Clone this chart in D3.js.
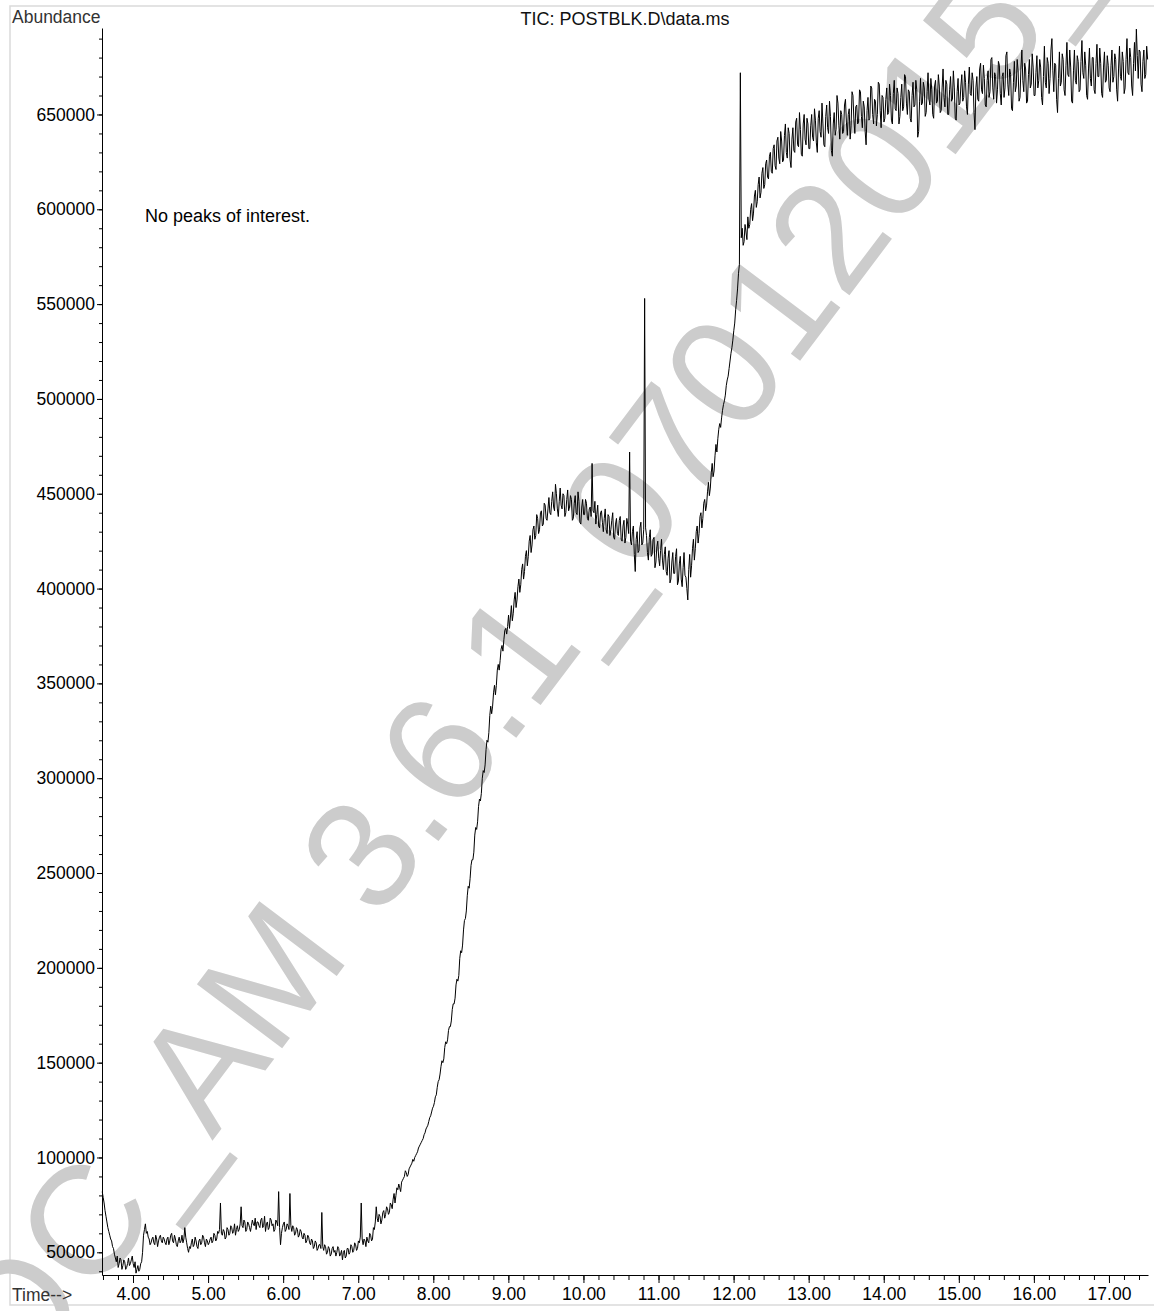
<!DOCTYPE html>
<html>
<head>
<meta charset="utf-8">
<script src="https://cdn.jsdelivr.net/npm/d3@7"></script>
<style>
  html, body { margin: 0; padding: 0; background: #fff; }
  svg { display: block; }
  text { font-family: "Liberation Sans", Arial, Helvetica, sans-serif; }
</style>
</head>
<body>
<svg id="chart" width="1154" height="1311"></svg>
<script>
// Total ion chromatogram, one value per scan (thousands of counts)
const scanStart = 3.59;       // min
const scanInterval = 0.0125;  // min
const ticK = [
  // 3.59 - 4.18
  82,79,76,72,69,66,63,61,59,57,56,53,52,49,47,45,48,42,44,47,46,41,43,46,
  45,41,42,44,47,43,44,46,48,44,42,45,39,41,43,40,41,44,45,50,59,62,65,60,
  // 4.19 - 5.00
  61,58,57,54,55,57,58,55,54,59,57,53,56,58,59,56,55,58,57,55,54,57,58,54,
  56,59,60,56,55,59,57,54,53,56,58,55,56,59,55,57,63,58,55,52,50,53,52,55,
  57,53,54,58,56,53,52,56,57,54,55,59,58,55,53,57,56,54,
  // 5.02 - 5.98
  55,57,58,55,56,60,59,56,57,61,60,62,76,60,59,62,61,57,58,63,62,59,60,64,
  63,60,61,65,59,62,64,61,62,65,74,64,63,67,66,61,62,66,65,63,61,64,67,65,
  64,68,62,66,66,64,63,67,68,63,64,69,61,65,66,62,63,68,67,64,65,61,62,67,
  66,64,82,63,54,60,
  // 5.99 - 7.00
  63,65,66,61,62,65,64,62,81,64,61,64,63,59,60,63,62,58,59,62,61,58,57,60,
  59,55,56,59,58,55,54,57,56,52,53,56,55,51,52,54,54,52,71,53,51,54,53,49,
  50,53,52,48,49,52,53,50,51,48,50,53,52,48,49,51,46,50,51,47,48,52,52,49,
  50,54,53,50,51,55,54,51,52,56,
  // 7.02 - 8.00
  55,58,76,57,54,57,56,53,58,56,55,60,59,56,57,63,62,66,74,68,66,70,69,65,
  67,71,72,68,70,74,73,70,71,76,75,73,78,81,76,80,84,83,86,84,82,87,88,89,
  90,93,92,90,91,94,95,96,97,99,98,100,101,102,103,105,106,107,108,109,110,112,
  113,115,116,117,119,121,122,124,126,127,
  // 8.02 - 9.00
  129,132,133,137,140,141,144,148,151,150,152,158,161,160,162,167,169,169,172,178,
  181,181,184,191,194,193,196,205,209,208,212,220,225,226,230,238,243,242,247,254,
  257,257,261,270,274,273,277,285,289,288,292,300,304,303,307,315,320,319,324,333,
  338,334,338,345,349,344,349,357,360,357,362,368,370,367,373,378,379,376,380,386,
  // 9.02 - 10.00
  379,385,391,383,387,394,398,390,394,401,405,398,402,410,413,405,409,417,420,412,
  417,425,428,419,423,431,433,426,428,439,437,429,431,440,441,433,434,445,444,437,
  436,442,448,440,439,446,451,443,441,455,450,442,438,446,453,444,442,450,449,438,
  440,447,452,441,443,449,447,436,437,445,449,440,439,451,446,435,434,443,447,439,
  // 10.02 - 11.00
  439,447,445,437,436,442,443,438,466,441,440,446,434,439,444,433,432,440,441,435,
  430,437,442,431,429,439,438,428,431,436,440,427,426,434,437,429,428,436,438,426,
  425,433,436,424,427,437,434,429,472,425,423,430,433,418,409,426,430,419,420,432,
  435,423,424,431,553,432,428,419,415,427,431,417,418,426,427,411,414,422,425,416,
  // 11.02 - 12.00
  412,420,426,415,410,418,422,409,407,416,420,403,405,414,419,408,408,417,421,402,
  404,413,417,405,401,411,419,407,406,400,394,410,418,406,412,421,426,415,421,430,
  433,424,429,438,440,432,437,445,447,441,444,451,456,449,453,461,466,459,462,470,
  476,472,479,484,487,485,490,494,497,499,502,507,510,512,516,520,524,527,531,536,
  // 12.02 - 13.00
  540,547,552,558,566,571,672,585,590,581,583,592,588,584,596,590,592,600,603,594,
  598,607,610,601,604,613,617,606,609,619,622,611,613,624,626,617,616,628,630,620,
  619,632,634,623,621,636,638,627,624,641,636,625,626,639,645,630,627,643,640,626,
  622,637,643,631,630,646,648,634,633,651,642,629,628,645,650,637,634,648,645,632,
  // 13.02 - 14.00
  632,644,650,638,636,653,647,635,630,648,652,641,638,656,645,634,633,649,655,643,
  640,657,649,631,628,645,651,639,642,660,656,644,637,652,650,640,641,655,658,646,
  639,650,653,637,644,662,660,647,640,654,655,645,646,663,662,649,643,657,654,641,
  634,652,659,647,648,665,664,650,645,658,657,644,650,667,666,652,643,660,659,646,
  // 14.02 - 15.00
  648,658,664,650,651,666,660,647,645,661,668,653,652,664,661,645,649,659,666,652,
  654,671,670,656,650,663,662,648,646,660,667,654,655,668,663,638,641,657,669,655,
  656,667,664,649,651,662,672,658,655,669,663,650,648,665,668,656,657,671,665,651,
  652,664,674,659,654,668,666,650,650,663,670,657,658,673,664,648,647,662,669,655,
  // 15.02 - 16.00
  656,665,671,657,659,673,667,654,650,666,675,661,660,672,668,651,642,664,670,658,
  657,674,677,663,661,676,669,655,654,668,673,659,662,679,680,664,658,672,670,656,
  663,678,676,661,655,670,672,659,664,681,683,666,660,674,671,653,652,667,678,662,
  665,679,673,657,659,675,684,668,662,677,674,656,657,671,679,664,666,682,675,660,
  // 16.02 - 17.00
  660,672,681,664,668,679,675,659,655,670,686,667,664,680,677,661,669,684,690,673,
  662,677,676,658,651,669,683,665,667,682,679,663,660,676,688,671,670,684,675,657,
  656,673,684,668,666,681,678,662,663,678,689,672,669,683,676,660,658,674,685,669,
  665,680,680,663,661,677,687,670,670,685,677,661,659,675,683,667,668,681,676,664,
  // 17.02 - 17.52
  662,676,684,667,670,682,679,663,657,674,686,670,668,683,678,661,664,679,690,672,
  671,685,680,665,660,677,688,673,695,681,669,684,683,666,662,678,684,669,671,686,679
];

// Axis tick values
const timeMajor = d3.range(4, 18, 1);
const timeMinor = d3.range(3.6, 17.55, 0.2);
const abundanceMajor = d3.range(50000, 650001, 50000);
const abundanceMinor = d3.range(40000, 695001, 10000);

// Texts
const titleText = "TIC: POSTBLK.D\\data.ms";
const yTitle = "Abundance";
const xTitle = "Time-->";
const note = "No peaks of interest.";
const stamp = "DOC_AM 3.6.1_07012015_";

const scans = ticK.map((v, i) => ({ t: scanStart + i * scanInterval, v: v * 1000 }));

const svg = d3.select("#chart");
const W = 1154;
const plot = { left: 102, right: 1148, top: 28, bottom: 1275 };

const x = d3.scaleLinear().domain([3.587, 17.52]).range([plot.left, plot.right]);
const y = d3.scaleLinear().domain([38030, 695600]).range([plot.bottom, plot.top]);

// page frame
svg.append("path")
  .attr("d", `M${W + 2},6 H10 V1305 H${W + 2}`)
  .attr("fill", "none")
  .attr("stroke", "#dadada")
  .attr("stroke-width", 1.5);

// watermark stamp
svg.append("text")
  .attr("transform", "translate(-47,1485) rotate(-53)")
  .attr("font-size", 155)
  .attr("fill", "#cccccc")
  .text(stamp);

// axes
const fs = 17.5;
const yMinorAxis = d3.axisLeft(y).tickValues(abundanceMinor).tickSize(3).tickFormat("").tickSizeOuter(0);
svg.append("g").attr("transform", `translate(${plot.left},0)`).call(yMinorAxis)
  .call(g => g.select(".domain").remove());

const yAxis = d3.axisLeft(y).tickValues(abundanceMajor).tickSize(5).tickPadding(2)
  .tickFormat(d3.format("d")).tickSizeOuter(0);
svg.append("g").attr("transform", `translate(${plot.left},0)`).call(yAxis)
  .call(g => g.selectAll("text").attr("font-size", fs).attr("font-family", null).attr("fill", "#000"))
  .call(g => g.select(".domain").attr("stroke", "#000"));

const xMinorAxis = d3.axisBottom(x).tickValues(timeMinor).tickSize(5).tickFormat("").tickSizeOuter(0);
svg.append("g").attr("transform", `translate(0,${plot.bottom})`).call(xMinorAxis)
  .call(g => g.select(".domain").remove());

const xAxis = d3.axisBottom(x).tickValues(timeMajor).tickSize(8).tickPadding(5)
  .tickFormat(d => d.toFixed(2)).tickSizeOuter(0);
svg.append("g").attr("transform", `translate(0,${plot.bottom})`).call(xAxis)
  .call(g => g.selectAll("text").attr("font-size", fs).attr("font-family", null).attr("fill", "#000"))
  .call(g => g.select(".domain").attr("stroke", "#000"));

// chromatogram trace
const line = d3.line().x(d => x(d.t)).y(d => y(d.v));
svg.append("path")
  .datum(scans)
  .attr("d", line)
  .attr("fill", "none")
  .attr("stroke", "#000")
  .attr("stroke-width", 1)
  .attr("stroke-linejoin", "miter");

// titles and annotations
svg.append("text").attr("x", 12).attr("y", 23).attr("font-size", fs).attr("fill", "#333").text(yTitle);
svg.append("text").attr("x", 625).attr("y", 25).attr("text-anchor", "middle").attr("font-size", 18).attr("fill", "#111").text(titleText);
svg.append("text").attr("x", 145).attr("y", 222).attr("font-size", 18).attr("fill", "#000").text(note);
svg.append("text").attr("x", 12).attr("y", 1301).attr("font-size", fs).attr("fill", "#333").text(xTitle);
</script>
</body>
</html>
